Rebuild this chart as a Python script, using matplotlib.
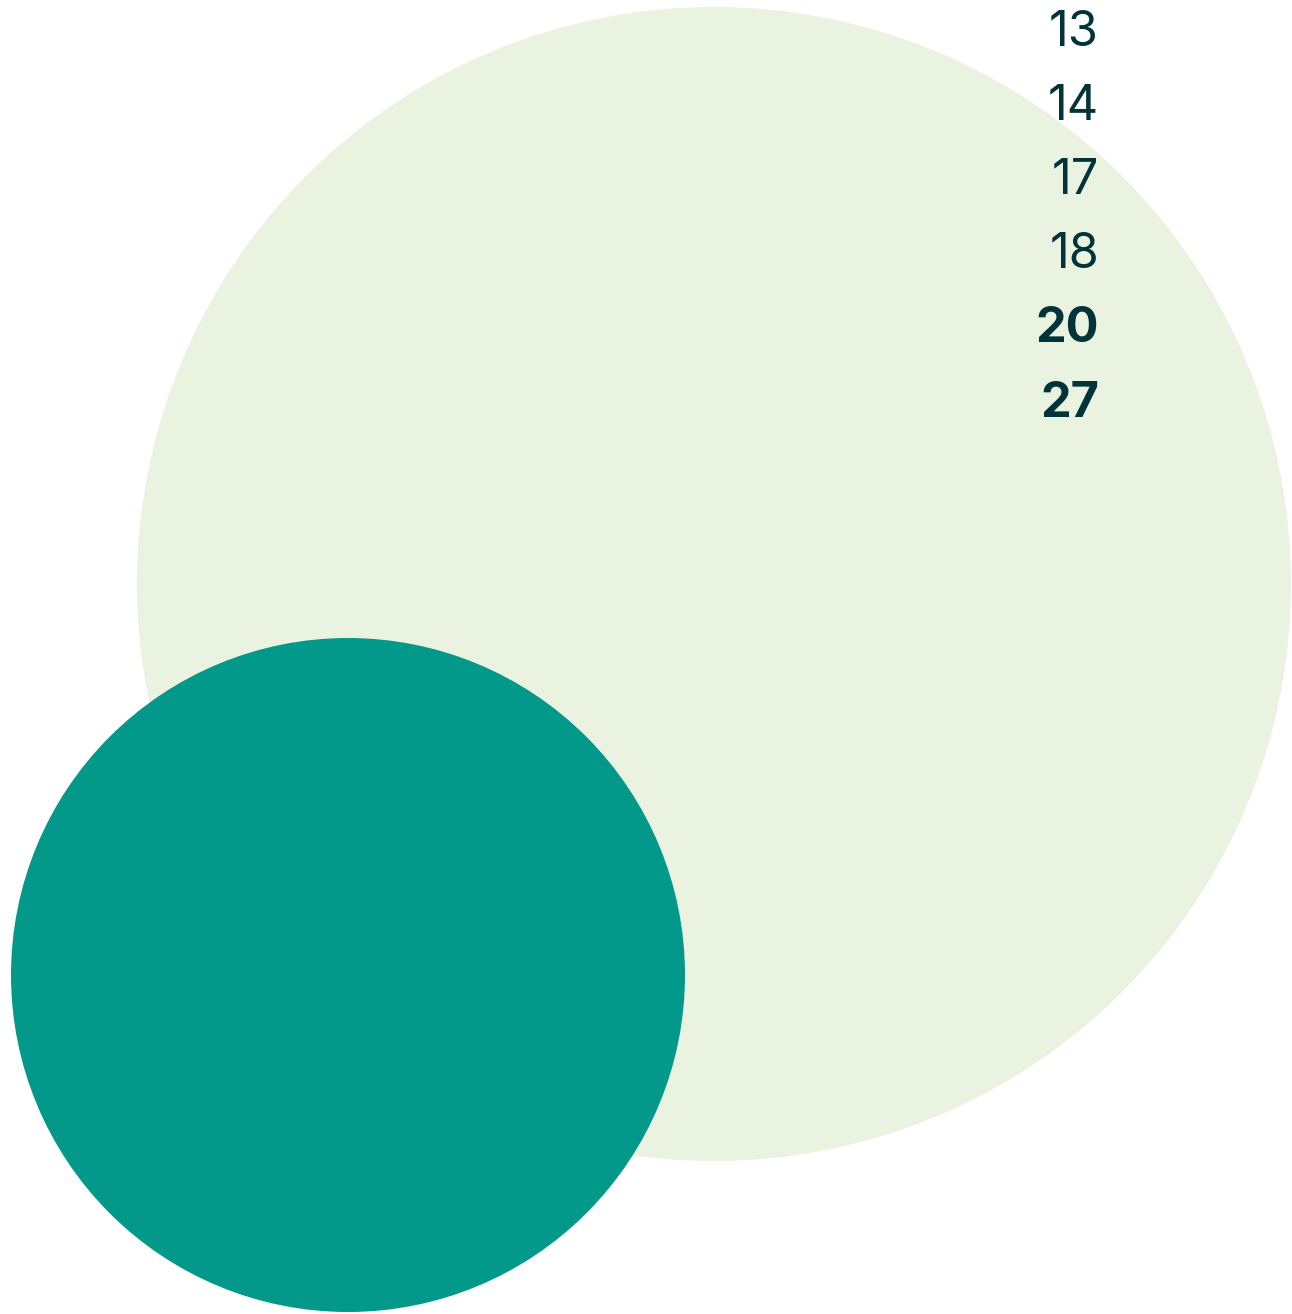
import matplotlib
matplotlib.use("Agg")
import matplotlib.pyplot as plt
from matplotlib.patches import Circle

# Data
bubble_names = ["large", "small"]
bubble_x = [714, 348]
bubble_y = [584, 975]
bubble_r = [577, 337]
bubble_colors = ["#e9f3df", "#03998a"]

labels = ["13", "14", "17", "18", "20", "27"]
label_bold = [False, False, False, False, True, True]
label_y = [33, 107, 181, 255, 329, 404]
label_x = 1099

W, H = 1292, 1314
fig = plt.figure(figsize=(W / 100, H / 100), dpi=100)
ax = fig.add_axes([0, 0, 1, 1])
ax.set_xlim(0, W)
ax.set_ylim(H, 0)
ax.set_aspect("equal")
ax.axis("off")

for x, y, r, c in zip(bubble_x, bubble_y, bubble_r, bubble_colors):
    ax.add_patch(Circle((x, y), r, facecolor=c, edgecolor="none"))

for t, b, y in zip(labels, label_bold, label_y):
    ax.text(label_x, y, t, ha="right", va="center", fontsize=35,
            fontweight="bold" if b else "normal", family=["Inter", "DejaVu Sans"],
            color="#00343a")

fig.savefig("out.png", dpi=100, facecolor="white")
